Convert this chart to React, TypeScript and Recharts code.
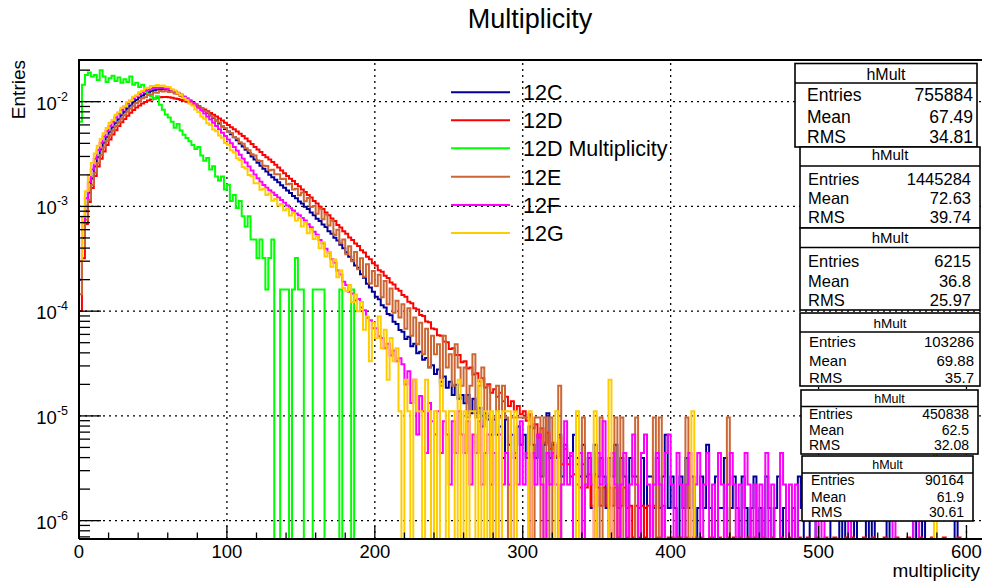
import React from "react";
import { LineChart, Line, XAxis, YAxis, ReferenceLine } from "recharts";

// histogram bins are 2 units wide, low edges at 0, 2, 4 ... 598
const BIN_WIDTH = 2;

const SERIES_NAMES = ["12C", "12D", "12D Multiplicity", "12E", "12F", "12G"];
const SERIES_COLORS = ["#000099", "#ff0000", "#00ff00", "#cc6633", "#ff00ff", "#ffcc00"];
const ENTRIES = [755884, 1445284, 6215, 103286, 450838, 90164];
const MEANS = ["67.49", "72.63", "36.8", "69.88", "62.5", "61.9"];
const RMS = ["34.81", "39.74", "25.97", "35.7", "32.08", "30.61"];

// bin contents (counts), one value per bin
const COUNTS_12C = [
  151, 378, 680, 1020, 1398, 1814, 2230, 2646, 3061, 3477,
  3893, 4309, 4724, 5140, 5594, 6047, 6501, 6954, 7408, 7861,
  8277, 8655, 8995, 9297, 9524, 9713, 9864, 9940, 9978, 9902,
  9789, 9540, 9290, 9000, 8690, 8390, 8080, 7710, 7410, 7100,
  6800, 6500, 6200, 5890, 5590, 5290, 4990, 4680, 4380, 4150,
  3930, 3690, 3460, 3230, 3010, 2820, 2630, 2450, 2270, 2120,
  1970, 1850, 1735, 1628, 1515, 1432, 1358, 1288, 1205, 1138,
  1070, 1016, 948, 903, 844, 805, 752, 714, 662, 624,
  578, 548, 508, 480, 438, 414, 380, 358, 326, 302,
  276, 250, 232, 206, 196, 170, 158, 138, 127, 116,
  104, 98, 86, 82, 71, 69, 60, 57, 50, 48,
  41, 43, 35, 37, 30, 31, 26, 27, 22, 23,
  19, 21, 16, 18, 14, 16, 12, 15, 11, 12,
  10, 12, 8, 11, 8, 9, 6, 8, 7, 5,
  7, 5, 6, 3, 7, 4, 5, 3, 6, 4,
  5, 3, 6, 4, 3, 5, 2, 4, 8, 3,
  4, 3, 5, 2, 4, 3, 2, 5, 3, 2,
  4, 2, 3, 1, 4, 2, 3, 2, 1, 3,
  2, 4, 1, 3, 2, 1, 3, 2, 2, 1,
  3, 1, 2, 2, 1, 3, 1, 2, 5, 1,
  2, 1, 0, 2, 1, 3, 1, 2, 0, 1,
  2, 1, 4, 1, 0, 2, 1, 1, 3, 0,
  1, 2, 1, 0, 2, 1, 0, 1, 2, 0,
  1, 0, 2, 1, 0, 1, 2, 0, 1, 0,
  0, 1, 0, 2, 1, 0, 0, 1, 2, 0,
  0, 0, 0, 0, 2, 1, 2, 0, 1, 0,
  0, 0, 1, 0, 0, 0, 2, 0, 2, 0,
  0, 0, 0, 2, 0, 0, 0, 0, 0, 0,
  0, 0, 1, 0, 0, 1, 0, 0, 0, 0,
  0, 0, 0, 0, 0, 0, 2, 0, 0, 0,
];

const COUNTS_12D = [
  145, 462, 983, 1590, 2168, 2818, 3469, 4119, 4842, 5564,
  6287, 7010, 7732, 8455, 9178, 9900, 10623, 11345, 12068, 12718,
  13297, 13875, 14381, 14814, 15175, 15465, 15754, 15898, 16043, 16043,
  15898, 15754, 15537, 15320, 15031, 14742, 14453, 14164, 13730, 13369,
  13008, 12574, 12140, 11707, 11273, 10840, 10406, 9972, 9539, 9105,
  8672, 8238, 7877, 7515, 7154, 6793, 6432, 6070, 5709, 5348,
  5058, 4769, 4480, 4264, 4047, 3830, 3613, 3396, 3180, 2992,
  2826, 2650, 2521, 2362, 2247, 2101, 1989, 1856, 1757, 1625,
  1540, 1438, 1366, 1265, 1192, 1106, 1048, 961, 910, 838,
  792, 731, 690, 639, 604, 551, 524, 479, 452, 415,
  394, 356, 343, 314, 299, 271, 260, 236, 227, 206,
  198, 178, 172, 154, 150, 133, 130, 115, 113, 99,
  97, 85, 84, 74, 73, 63, 64, 55, 55, 47,
  48, 41, 42, 36, 37, 31, 33, 27, 29, 24,
  26, 22, 24, 20, 22, 18, 20, 16, 18, 15,
  16, 13, 15, 11, 12, 9, 11, 8, 10, 7,
  8, 6, 9, 5, 7, 5, 6, 4, 5, 3,
  5, 3, 4, 2, 4, 3, 2, 3, 2, 3,
  2, 3, 1, 2, 3, 1, 2, 1, 2, 1,
  2, 1, 2, 0, 2, 1, 1, 2, 0, 1,
  1, 0, 1, 1, 0, 1, 0, 1, 1, 0,
  1, 0, 0, 1, 1, 0, 1, 0, 0, 1,
  0, 1, 0, 1, 0, 0, 1, 0, 1, 0,
  0, 1, 0, 0, 1, 0, 0, 1, 0, 0,
  1, 0, 0, 1, 0, 0, 1, 0, 0, 1,
  0, 0, 1, 0, 0, 1, 0, 0, 0, 1,
  0, 1, 0, 0, 0, 1, 0, 0, 1, 0,
  0, 0, 1, 0, 0, 0, 1, 0, 0, 0,
  1, 0, 0, 0, 1, 0, 0, 0, 1, 0,
  0, 0, 1, 0, 0, 0, 0, 1, 0, 0,
];

const COUNTS_12D_MULT = [
  40, 90, 112, 118, 108, 112, 100, 124, 108, 96,
  104, 110, 98, 106, 94, 102, 96, 108, 90, 94,
  86, 90, 80, 74, 70, 66, 70, 58, 52, 47,
  44, 40, 35, 38, 33, 30, 28, 26, 24, 22,
  23, 19, 17, 18, 14, 15, 12, 11, 12, 9,
  10, 7, 8, 6, 7, 5, 4, 5, 3, 3,
  2, 3, 2, 1, 2, 3, 0, 0, 1, 1,
  1, 0, 1, 2, 1, 1, 0, 0, 0, 1,
  1, 1, 1, 0, 0, 0, 0, 0, 1, 0,
  0, 0, 1, 0, 0, 0, 0, 0, 0, 0,
  0, 0, 0, 0, 0, 0, 0, 0, 0, 0,
  0, 0, 0, 0, 0, 0, 0, 0, 0, 0,
  0, 0, 0, 0, 0, 0, 0, 0, 0, 0,
  0, 0, 0, 0, 0, 0, 0, 0, 0, 0,
  0, 0, 0, 0, 0, 0, 0, 0, 0, 0,
  0, 0, 0, 0, 0, 0, 0, 0, 0, 0,
  0, 0, 0, 0, 0, 0, 0, 0, 0, 0,
  0, 0, 0, 0, 0, 0, 0, 0, 0, 0,
  0, 0, 0, 0, 0, 0, 0, 0, 0, 0,
  0, 0, 0, 0, 0, 0, 0, 0, 0, 0,
  0, 0, 0, 0, 0, 0, 0, 0, 0, 0,
  0, 0, 0, 0, 0, 0, 0, 0, 0, 0,
  0, 0, 0, 0, 0, 0, 0, 0, 0, 0,
  0, 0, 0, 0, 0, 0, 0, 0, 0, 0,
  0, 0, 0, 0, 0, 0, 0, 0, 0, 0,
  0, 0, 0, 0, 0, 0, 0, 0, 0, 0,
  0, 0, 0, 0, 0, 0, 0, 0, 0, 0,
  0, 0, 0, 0, 0, 0, 0, 0, 0, 0,
  0, 0, 0, 0, 0, 0, 0, 0, 0, 0,
  0, 0, 0, 0, 0, 0, 0, 0, 0, 0,
];

const COUNTS_12E = [
  15, 41, 77, 119, 165, 217, 269, 320, 377, 434,
  491, 547, 604, 661, 718, 775, 831, 888, 945, 1002,
  1048, 1112, 1139, 1196, 1211, 1262, 1258, 1303, 1289, 1312,
  1280, 1285, 1238, 1226, 1168, 1145, 1084, 1063, 1001, 980,
  921, 897, 840, 814, 757, 731, 676, 652, 602, 580,
  536, 518, 474, 460, 424, 409, 371, 356, 325, 316,
  283, 280, 252, 251, 229, 231, 209, 210, 189, 190,
  168, 170, 150, 152, 132, 140, 116, 124, 102, 104,
  88, 98, 78, 87, 68, 76, 55, 62, 46, 50,
  36, 43, 31, 38, 26, 33, 22, 29, 19, 25,
  18, 23, 14, 20, 12, 17, 10, 13, 9, 12,
  7, 11, 6, 9, 5, 8, 4, 7, 3, 6,
  4, 5, 2, 6, 3, 4, 2, 5, 3, 2,
  3, 1, 2, 4, 1, 2, 3, 1, 2, 0,
  1, 2, 1, 2, 1, 0, 1, 1, 1, 1,
  1, 1, 1, 0, 1, 1, 0, 1, 0, 1,
  0, 0, 2, 0, 0, 0, 0, 0, 0, 0,
  1, 0, 0, 0, 0, 0, 1, 0, 0, 0,
  0, 1, 0, 1, 0, 0, 0, 0, 1, 0,
  0, 0, 0, 0, 1, 0, 1, 0, 0, 0,
  0, 0, 0, 0, 0, 1, 0, 0, 0, 0,
  0, 0, 0, 0, 0, 0, 0, 0, 0, 1,
  0, 0, 0, 0, 0, 0, 0, 0, 0, 0,
  0, 0, 0, 0, 0, 0, 0, 0, 0, 0,
  0, 0, 0, 0, 0, 0, 0, 0, 0, 0,
  0, 0, 0, 0, 0, 0, 0, 0, 0, 0,
  0, 0, 0, 0, 0, 0, 0, 0, 0, 0,
  0, 0, 0, 0, 0, 0, 0, 0, 0, 0,
  0, 0, 0, 0, 0, 0, 0, 0, 0, 0,
  0, 0, 0, 0, 0, 0, 0, 0, 0, 0,
];

const COUNTS_12F = [
  135, 316, 541, 766, 1014, 1285, 1555, 1826, 2096, 2367,
  2637, 2908, 3178, 3471, 3765, 4058, 4328, 4599, 4869, 5117,
  5320, 5545, 5726, 5861, 5996, 6086, 6131, 6131, 6109, 6041,
  5951, 5816, 5658, 5478, 5275, 5049, 4824, 4599, 4373, 4148,
  3922, 3697, 3471, 3246, 3043, 2840, 2637, 2457, 2277, 2119,
  1961, 1803, 1668, 1533, 1407, 1289, 1181, 1082, 992, 911,
  839, 776, 722, 680, 645, 612, 580, 549, 519, 488,
  461, 432, 412, 386, 372, 350, 331, 305, 286, 259,
  242, 216, 201, 178, 164, 141, 131, 110, 101, 86,
  80, 69, 66, 57, 59, 49, 46, 39, 37, 31,
  31, 26, 25, 20, 22, 17, 19, 15, 16, 14,
  9, 12, 6, 10, 3, 7, 5, 2, 6, 4,
  3, 5, 2, 4, 3, 1, 4, 2, 5, 3,
  2, 4, 1, 3, 2, 4, 1, 2, 3, 1,
  2, 0, 3, 1, 2, 1, 0, 2, 1, 4,
  1, 2, 0, 2, 1, 3, 1, 0, 2, 1,
  2, 1, 0, 1, 4, 1, 2, 0, 1, 2,
  0, 1, 2, 1, 0, 2, 1, 4, 1, 0,
  2, 1, 0, 1, 2, 0, 1, 3, 1, 0,
  2, 3, 1, 0, 1, 2, 1, 0, 2, 3,
  1, 0, 2, 1, 0, 1, 2, 0, 1, 2,
  0, 1, 2, 0, 1, 0, 2, 1, 0, 1,
  2, 1, 0, 1, 0, 2, 1, 0, 1, 0,
  1, 0, 2, 0, 1, 0, 0, 2, 1, 0,
  1, 0, 1, 0, 0, 0, 0, 0, 0, 1,
  0, 1, 0, 0, 0, 0, 0, 0, 0, 0,
  1, 0, 0, 0, 0, 0, 0, 0, 0, 0,
  0, 0, 0, 0, 0, 1, 0, 0, 0, 0,
  0, 0, 1, 1, 0, 0, 0, 0, 0, 0,
  0, 0, 0, 0, 0, 0, 0, 0, 0, 0,
];

const COUNTS_12G = [
  27, 72, 126, 180, 234, 289, 343, 397, 451, 505,
  566, 604, 676, 715, 788, 822, 897, 930, 1003, 1039,
  1108, 1146, 1210, 1228, 1271, 1274, 1298, 1283, 1286, 1255,
  1242, 1182, 1153, 1083, 1046, 975, 938, 868, 828, 760,
  720, 652, 620, 562, 539, 490, 470, 428, 408, 364,
  350, 310, 295, 260, 250, 215, 208, 180, 175, 150,
  150, 130, 133, 116, 120, 102, 106, 92, 95, 83,
  86, 74, 78, 66, 70, 58, 64, 50, 55, 44,
  47, 36, 41, 30, 33, 24, 28, 19, 22, 15,
  14, 16, 11, 13, 9, 11, 6, 8, 3, 7,
  5, 8, 4, 6, 2, 5, 3, 4, 1, 0,
  2, 1, 0, 2, 1, 1, 0, 2, 1, 0,
  1, 0, 2, 1, 0, 1, 1, 0, 2, 0,
  1, 0, 1, 1, 0, 2, 0, 1, 0, 1,
  0, 1, 0, 1, 1, 1, 0, 1, 0, 0,
  0, 0, 1, 0, 0, 0, 0, 0, 0, 0,
  0, 1, 0, 0, 0, 0, 0, 0, 1, 0,
  0, 0, 0, 0, 1, 0, 0, 0, 0, 2,
  0, 0, 0, 0, 0, 0, 0, 0, 0, 0,
  0, 0, 0, 0, 0, 0, 0, 0, 0, 0,
  0, 0, 0, 0, 0, 0, 0, 1, 0, 0,
  0, 0, 0, 0, 0, 0, 0, 0, 0, 0,
  0, 0, 0, 0, 0, 0, 0, 0, 0, 0,
  0, 0, 0, 0, 0, 0, 0, 0, 0, 0,
  0, 0, 0, 0, 0, 0, 0, 0, 0, 0,
  0, 0, 0, 0, 0, 0, 0, 0, 0, 0,
  0, 0, 0, 0, 0, 0, 0, 0, 0, 0,
  0, 0, 0, 0, 0, 0, 0, 0, 0, 0,
  0, 0, 0, 0, 0, 0, 0, 0, 0, 1,
  0, 0, 0, 0, 0, 0, 0, 0, 0, 0,
];

const SERIES_COUNTS = [COUNTS_12C, COUNTS_12D, COUNTS_12D_MULT, COUNTS_12E, COUNTS_12F, COUNTS_12G];

const X_MAX = 610.5;
const Y_MIN = 6.68e-7;
const Y_MAX = 2.5e-2;
const X_TICKS = Array.from({ length: 31 }, (_, i) => i * 20);
const X_GRID = [100, 200, 300, 400, 500, 600];
const Y_GRID = [1e-6, 1e-5, 1e-4, 1e-3, 1e-2];
const Y_TICKS: number[] = [];
[1e-7, 1e-6, 1e-5, 1e-4, 1e-3, 1e-2].forEach((d) => {
  for (let k = 1; k <= 9; k++) {
    const v = k * d;
    if (v >= Y_MIN && v <= Y_MAX) Y_TICKS.push(v);
  }
});

// normalised to unit area; empty bins sit on the bottom of the log frame
const norm = (c: number, n: number) => (c > 0 ? c / n : Y_MIN);

const rows: any[] = [];
const edgeRow = (m: number) => {
  const r: any = { m };
  SERIES_NAMES.forEach((_, k) => (r["s" + k] = Y_MIN));
  return r;
};
rows.push(edgeRow(0));
COUNTS_12C.forEach((_, i) => {
  const r: any = { m: i * BIN_WIDTH };
  SERIES_COUNTS.forEach((arr, k) => (r["s" + k] = norm(arr[i], ENTRIES[k])));
  rows.push(r);
});
rows.push(edgeRow(COUNTS_12C.length * BIN_WIDTH));
rows.push(edgeRow(612));

const W = 982;
const H = 584;
const PLOT_L = 79;
const PLOT_T = 60;
const PLOT_B = 539;
const FONT = "'Liberation Sans', Arial, Helvetica, sans-serif";

const YTick = (props: any) => {
  const { y, payload } = props;
  const v = payload.value;
  const exp = Math.round(Math.log10(v));
  const major = Math.abs(v / Math.pow(10, exp) - 1) < 1e-6;
  return (
    <g>
      <line x1={PLOT_L} x2={PLOT_L + (major ? 22 : 11)} y1={y} y2={y} stroke="#000" strokeWidth={1.3} />
      {major && (
        <text x={68} y={y + 8} textAnchor="end" fontSize={18.5} fontFamily={FONT} fill="#000">
          10
          <tspan dy={-9} fontSize={12.5}>
            {exp}
          </tspan>
        </text>
      )}
    </g>
  );
};

const XTick = (props: any) => {
  const { x, payload } = props;
  const v = payload.value;
  const major = v % 100 === 0;
  return (
    <g>
      <line x1={x} x2={x} y1={PLOT_B} y2={PLOT_B - (major ? 13 : 6.5)} stroke="#000" strokeWidth={1.3} />
      {major && (
        <text x={x} y={PLOT_B + 19} textAnchor="middle" fontSize={18.5} fontFamily={FONT} fill="#000">
          {v}
        </text>
      )}
    </g>
  );
};

const BOX_LAYOUT = [
  { x1: 795, x2: 977, top: 63.5, sep: 83, bottom: 147, fs: 17.5, head: 80, rows: [101, 123, 143], lx: 807, rx: 973 },
  { x1: 800, x2: 980, top: 147, sep: 166, bottom: 228, fs: 16.5, head: 160, rows: [185, 204, 223], lx: 808, rx: 971 },
  { x1: 800, x2: 980, top: 228, sep: 247.5, bottom: 310, fs: 16.5, head: 243, rows: [266.5, 287, 306], lx: 808, rx: 971 },
  { x1: 800, x2: 980, top: 313, sep: 332, bottom: 386, fs: 15, head: 328, rows: [347, 366, 383], lx: 809, rx: 974 },
  { x1: 801, x2: 978, top: 390, sep: 406.5, bottom: 454, fs: 14, head: 403, rows: [419, 434.5, 450], lx: 809, rx: 969 },
  { x1: 802, x2: 973, top: 456, sep: 473, bottom: 521, fs: 14, head: 469, rows: [485, 502, 517], lx: 811, rx: 964 },
];

const LEGEND_ROWS = [92.3, 120.3, 148.3, 176.7, 205, 233];

export default function App() {
  return (
    <div style={{ position: "absolute", left: 0, top: 0, width: W, height: H, background: "#fff" }}>
      <LineChart width={W} height={H} data={rows} margin={{ top: PLOT_T, right: 0, bottom: 0, left: 0 }}>
        {X_GRID.map((g) => (
          <ReferenceLine key={"gx" + g} x={g} stroke="#000" strokeWidth={1.3} strokeDasharray="2 4" />
        ))}
        {Y_GRID.map((g) => (
          <ReferenceLine key={"gy" + g} y={g} stroke="#000" strokeWidth={1.3} strokeDasharray="2 4" />
        ))}
        <XAxis
          dataKey="m"
          type="number"
          domain={[0, X_MAX]}
          allowDataOverflow
          ticks={X_TICKS}
          interval={0}
          tick={XTick}
          tickLine={false}
          axisLine={{ stroke: "#000", strokeWidth: 2 }}
          height={45}
        />
        <YAxis
          type="number"
          scale="log"
          domain={[Y_MIN, Y_MAX]}
          allowDataOverflow
          ticks={Y_TICKS}
          interval={0}
          tick={YTick}
          tickLine={false}
          axisLine={{ stroke: "#000", strokeWidth: 2 }}
          width={PLOT_L}
        />
        {SERIES_NAMES.map((name, k) => (
          <Line
            key={name}
            dataKey={"s" + k}
            name={name}
            type="stepAfter"
            stroke={SERIES_COLORS[k]}
            strokeWidth={2}
            dot={false}
            activeDot={false}
            isAnimationActive={false}
          />
        ))}
      </LineChart>

      <svg
        width={W}
        height={H}
        style={{ position: "absolute", left: 0, top: 0, pointerEvents: "none" }}
        fontFamily={FONT}
      >
        <line x1={PLOT_L - 1} x2={W} y1={PLOT_T} y2={PLOT_T} stroke="#000" strokeWidth={2} />
        <text x={530} y={28} textAnchor="middle" fontSize={27} fill="#000">
          Multiplicity
        </text>
        <text x={25} y={60} transform="rotate(-90 25 60)" textAnchor="end" fontSize={19} fill="#000">
          Entries
        </text>
        <text x={980} y={577} textAnchor="end" fontSize={19} fill="#000">
          multiplicity
        </text>

        {SERIES_NAMES.map((name, k) => (
          <g key={"leg" + name}>
            <line x1={451} x2={510} y1={LEGEND_ROWS[k]} y2={LEGEND_ROWS[k]} stroke={SERIES_COLORS[k]} strokeWidth={2} />
            <text x={523} y={LEGEND_ROWS[k] + 7.8} fontSize={21.5} fill="#000">
              {name}
            </text>
          </g>
        ))}

        {BOX_LAYOUT.map((b, k) => (
          <g key={"box" + k}>
            <rect x={b.x1} y={b.top} width={b.x2 - b.x1} height={b.bottom - b.top} fill="#fff" stroke="#000" strokeWidth={1.6} />
            <line x1={b.x1} x2={b.x2} y1={b.sep} y2={b.sep} stroke="#000" strokeWidth={1.3} />
            <text x={(b.x1 + b.x2) / 2} y={b.head} textAnchor="middle" fontSize={b.fs - 1.5} fill="#000">
              hMult
            </text>
            <text x={b.lx} y={b.rows[0]} fontSize={b.fs} fill="#000">Entries</text>
            <text x={b.rx} y={b.rows[0]} textAnchor="end" fontSize={b.fs} fill="#000">{ENTRIES[k]}</text>
            <text x={b.lx} y={b.rows[1]} fontSize={b.fs} fill="#000">Mean</text>
            <text x={b.rx} y={b.rows[1]} textAnchor="end" fontSize={b.fs} fill="#000">{MEANS[k]}</text>
            <text x={b.lx} y={b.rows[2]} fontSize={b.fs} fill="#000">RMS</text>
            <text x={b.rx} y={b.rows[2]} textAnchor="end" fontSize={b.fs} fill="#000">{RMS[k]}</text>
          </g>
        ))}
      </svg>
    </div>
  );
}
